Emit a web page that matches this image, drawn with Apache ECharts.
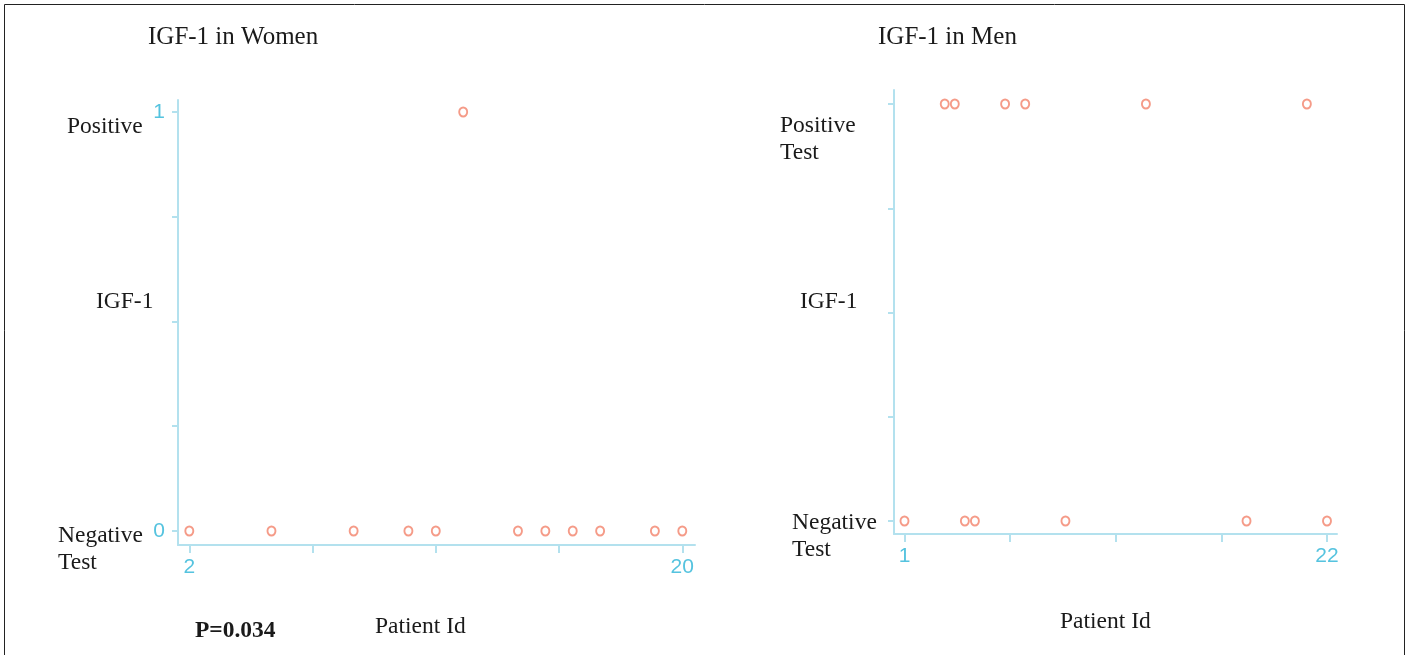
<!DOCTYPE html>
<html>
<head>
<meta charset="utf-8">
<script src="https://cdn.jsdelivr.net/npm/echarts@6/dist/echarts.min.js"></script>
<style>
html,body{margin:0;padding:0;background:#fff;}
#chart{width:1409px;height:655px;}
</style>
</head>
<body>
<div id="chart"></div>
<script>
// Women: patient ids and test result (1 = positive, 0 = negative)
var womenIds    = [2, 5, 8, 10, 11, 12, 14, 15, 16, 17, 19, 20];
var womenResult = [0, 0, 0, 0,  0,  1,  0,  0,  0,  0,  0,  0];
// Men
var menIds    = [1, 3, 3.5, 4, 4.5, 6, 7, 9, 13, 18, 21, 22];
var menResult = [0, 1, 1,   0, 0,   1, 1, 0, 1,  0,  1,  0];

var womenXTicks = [2, 6.5, 11, 15.5, 20];
var womenXLabels = [2, 20];
var menXTicks = [1, 6.25, 11.5, 16.75, 22];
var menXLabels = [1, 22];
var yTicks = [0, 0.25, 0.5, 0.75, 1];
var yLabels = [0, 1];

function pairs(xs, ys){ return xs.map(function(x,i){ return [x, ys[i]]; }); }

var axisCol = '#b3e1ee';
var labCol = '#55c3df';
var ptCol = '#f2826a';
var serif = '"Liberation Serif","Times New Roman",serif';
var sans = '"Liberation Sans",Arial,sans-serif';

function txt(s, x, y, opts){
  opts = opts || {};
  return {type:'text', style:{text:s, x:x, y:y, fill:'#1a1a1a', font:(opts.bold?'bold ':'') + (opts.size||23.5) + 'px ' + serif, textAlign:'left', textVerticalAlign:'middle'}};
}

var chart = echarts.init(document.getElementById('chart'), null, {renderer:'canvas'});
var option = {
  animation:false,
  backgroundColor:'#fff',
  grid:[
    {left:178, top:100, width:517, height:445},
    {left:894, top:90, width:443, height:444}
  ],
  xAxis:[
    {gridIndex:0, type:'value', min:1.587, max:20.464,
     axisLine:{show:true, onZero:false, lineStyle:{color:axisCol, width:2}},
     axisTick:{show:true, customValues:womenXTicks, length:8, lineStyle:{color:axisCol, width:2}},
     axisLabel:{customValues:womenXLabels, color:labCol, fontSize:21, fontFamily:sans, margin:12},
     splitLine:{show:false}},
    {gridIndex:1, type:'value', min:0.478, max:22.497,
     axisLine:{show:true, onZero:false, lineStyle:{color:axisCol, width:2}},
     axisTick:{show:true, customValues:menXTicks, length:8, lineStyle:{color:axisCol, width:2}},
     axisLabel:{customValues:menXLabels, color:labCol, fontSize:21, fontFamily:sans, margin:12},
     splitLine:{show:false}}
  ],
  yAxis:[
    {gridIndex:0, type:'value', min:-0.0334, max:1.0286,
     axisLine:{show:true, onZero:false, lineStyle:{color:axisCol, width:2}},
     axisTick:{show:true, customValues:yTicks, length:6, lineStyle:{color:axisCol, width:2}},
     axisLabel:{customValues:yLabels, color:labCol, fontSize:21, fontFamily:sans, margin:13},
     splitLine:{show:false}},
    {gridIndex:1, type:'value', min:-0.0312, max:1.0336,
     axisLine:{show:true, onZero:false, lineStyle:{color:axisCol, width:2}},
     axisTick:{show:true, customValues:yTicks, length:6, lineStyle:{color:axisCol, width:2}},
     axisLabel:{show:false},
     splitLine:{show:false}}
  ],
  series:[
    {type:'scatter', xAxisIndex:0, yAxisIndex:0, data:pairs(womenIds, womenResult),
     symbol:'emptyCircle', symbolSize:[8,9], itemStyle:{color:ptCol, borderColor:ptCol, borderWidth:1.5}},
    {type:'scatter', xAxisIndex:1, yAxisIndex:1, data:pairs(menIds, menResult),
     symbol:'emptyCircle', symbolSize:[8,9], itemStyle:{color:ptCol, borderColor:ptCol, borderWidth:1.5}}
  ],
  graphic:[
    {type:'rect', shape:{x:4.5, y:4.5, width:1400, height:700}, style:{fill:'none', stroke:'#222', lineWidth:1}, silent:true},
    txt('IGF-1 in Women', 148, 37, {size:25}),
    txt('Positive', 67, 127),
    txt('IGF-1', 96, 302),
    txt('Negative', 58, 536),
    txt('Test', 58, 563),
    txt('P=0.034', 195, 631, {bold:true}),
    txt('Patient Id', 375, 627),
    txt('IGF-1 in Men', 878, 37, {size:25}),
    txt('Positive', 780, 126),
    txt('Test', 780, 153),
    txt('IGF-1', 800, 302),
    txt('Negative', 792, 523),
    txt('Test', 792, 550),
    txt('Patient Id', 1060, 622)
  ]
};
chart.setOption(option);
</script>
</body>
</html>
